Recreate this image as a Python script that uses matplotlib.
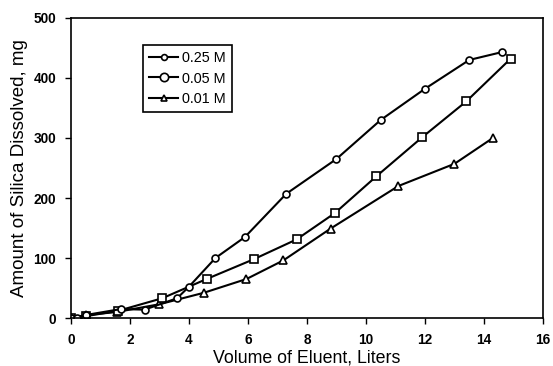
import matplotlib.pyplot as plt
from matplotlib.lines import Line2D

plt.rcParams['font.family'] = ['Liberation Sans', 'DejaVu Sans']

# silica dissolved vs. eluent volume for three eluent strengths
vol_025 = [0, 0.2, 0.5, 1.7, 2.5, 3.6, 4.0, 4.9, 5.9, 7.3, 9.0, 10.5, 12.0, 13.5, 14.6]
mg_025 = [0, 0, 5, 15, 14, 33, 52, 100, 135, 207, 265, 330, 382, 430, 443]

vol_005 = [0, 0.5, 1.6, 3.1, 4.6, 6.2, 7.65, 8.95, 10.35, 11.9, 13.4, 14.9]
mg_005 = [0, 3, 12, 33, 65, 98, 131, 175, 236, 301, 361, 432]

vol_001 = [0, 0.5, 1.55, 3.0, 4.5, 5.95, 7.2, 8.8, 11.1, 13.0, 14.3]
mg_001 = [0, 5, 10, 23, 42, 65, 96, 149, 220, 257, 300]

labels = ['0.25 M', '0.05 M', '0.01 M']

fig = plt.figure(figsize=(5.53, 3.66), dpi=100)
ax = fig.add_axes([0.128, 0.131, 0.854, 0.820])

kw = dict(color='black', lw=1.5, mfc='white', mec='black', mew=1.2)
ax.plot(vol_001, mg_001, marker='^', ms=5.2, **kw)
ax.plot(vol_005, mg_005, marker='s', ms=5.3, **kw)
ax.plot(vol_025, mg_025, marker='o', ms=5.0, **kw)

ax.set_xlim(0, 16)
ax.set_ylim(0, 500)
ax.set_xticks(range(0, 17, 2))
ax.set_yticks(range(0, 501, 100))
ax.tick_params(direction='out', length=4.5, width=1, labelsize=9.8,
               top=False, right=False)
ax.tick_params(axis='x', pad=6)
ax.tick_params(axis='y', pad=6)
for lab in ax.get_xticklabels() + ax.get_yticklabels():
    lab.set_fontweight('bold')
for s in ax.spines.values():
    s.set_linewidth(1.2)

ax.set_xlabel('Volume of Eluent, Liters', fontsize=12.8, labelpad=2)
ax.set_ylabel('Amount of Silica Dissolved, mg', fontsize=13.5, labelpad=4)

handles = [
    Line2D([], [], marker='o', ms=4.2, **kw),
    Line2D([], [], marker='o', ms=6, **kw),
    Line2D([], [], marker='^', ms=4.5, **kw),
]
leg = ax.legend(handles, labels, loc='upper left',
                bbox_to_anchor=(0.152, 0.91),
                fontsize=10.4, handlelength=2.0, handletextpad=0.3,
                labelspacing=0.42, borderpad=0.45, borderaxespad=0,
                fancybox=False, framealpha=1)
leg.get_frame().set_edgecolor('black')
leg.get_frame().set_linewidth(1.2)

fig.savefig('out.png', dpi=100)
